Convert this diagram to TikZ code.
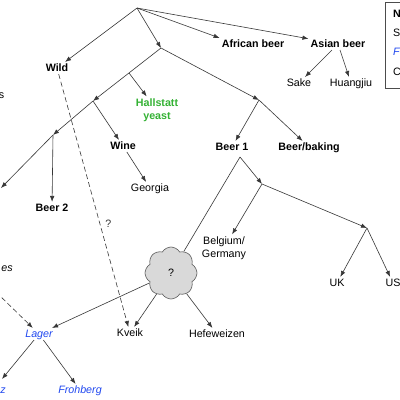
\documentclass[tikz,border=0pt]{standalone}
\usepackage{fontspec}
\setmainfont{Liberation Sans}
\usetikzlibrary{arrows.meta, shapes.symbols}
\definecolor{hallgreen}{RGB}{52,178,52}
\definecolor{lagerblue}{RGB}{32,72,240}
\definecolor{linegray}{RGB}{55,55,55}

\begin{document}
\begin{tikzpicture}[
    x=1pt, y=-1pt,
    >={Latex[length=6pt,width=4.5pt]},
    every node/.style={font=\fontsize{10.7}{12.9}\selectfont},
    lbl/.style   ={inner sep=2pt, text height=7.7pt, text depth=0pt},
    grp/.style   ={lbl, font=\fontsize{10.7}{12.9}\selectfont\bfseries},
    hyb/.style   ={lbl, text=lagerblue, font=\fontsize{10.7}{12.9}\selectfont\itshape},
    twoline/.style={inner sep=2pt, align=center},
    flow/.style  ={->, line width=0.6pt, linegray},
    link/.style  ={line width=0.6pt, linegray},
    guess/.style ={->, line width=0.6pt, linegray, dash pattern=on 5pt off 3pt},
    puff/.style  ={cloud, cloud puffs=8, cloud puff arc=120, aspect=1,
                   draw=black!65, fill=black!15, line width=0.6pt,
                   minimum width=52pt, minimum height=52pt, inner sep=0pt},
]
\fill[white] (0,0) rectangle (400,400);
\useasboundingbox (0,0) rectangle (400,400);

% branch points
\coordinate (root) at (137,8);
\coordinate (j1)   at (161,48);
\coordinate (hb)   at (129,73);
\coordinate (j2)   at (93,101);
\coordinate (j3)   at (53,135);
\coordinate (jb)   at (259,100);
\coordinate (b1)   at (240,157);
\coordinate (j4)   at (262,184);
\coordinate (j5)   at (367,228);
\coordinate (lft)  at (1,188);
\coordinate (sz)   at (2,379);
\coordinate (anc)  at (-4,292);

% groups
\node[grp] (wild)     at (57,68)   {Wild};
\node[grp] (african)  at (253,44)  {African beer};
\node[grp] (asian)    at (338,44)  {Asian beer};
\node[lbl] (sake)     at (299,83)  {Sake};
\node[lbl] (huangjiu) at (351,83)  {Huangjiu};
\node[twoline, text=hallgreen, font=\fontsize{10.7}{12.9}\selectfont\bfseries]
           (hallstatt) at (157,110) {Hallstatt\\yeast};
\node[grp] (wine)     at (123,146) {Wine};
\node[lbl] (georgia)  at (150,188) {Georgia};
\node[grp] (beer2)    at (52,208)  {Beer 2};
\node[grp] (beer1)    at (232,147) {Beer 1};
\node[grp] (baking)   at (309,147) {Beer/baking};
\node[twoline]        (belgium) at (224,248) {Belgium/\\Germany};
\node[lbl] (uk)       at (337,283) {UK};
\node[lbl] (us)       at (393,283) {US};
\node[puff] (cloud)   at (171,273) {?};
\node[lbl] (kveik)    at (130,333) {Kveik};
\node[lbl] (hefe)     at (217,334) {Hefeweizen};
\node[hyb] (lager)    at (39,334)  {Lager};
\node[hyb] (frohberg) at (80,390)  {Frohberg};

% cut at the left edge
\node[inner sep=0pt, anchor=base east] (ls)  at (4.5,98.3)  {s};
\node[inner sep=0pt, anchor=base east, font=\fontsize{10.7}{12.9}\selectfont\itshape]
     (les) at (13,271.7) {es};
\node[inner sep=0pt, anchor=base east, text=lagerblue,
      font=\fontsize{10.7}{12.9}\selectfont\itshape] (lz) at (6,393.3) {z};

% legend, cut at the right edge
\draw[line width=0.8pt, black!70] (385,2) rectangle (430,88);
\node[inner sep=0pt, anchor=west, font=\fontsize{10.7}{12.9}\selectfont\bfseries]
     (keyn) at (393,14) {N};
\node[inner sep=0pt, anchor=west] (keys) at (393,33) {S};
\node[inner sep=0pt, anchor=west, text=lagerblue,
      font=\fontsize{10.7}{12.9}\selectfont\itshape] (keyf) at (393,52) {F};
\node[inner sep=0pt, anchor=west] (keyc) at (393,72) {C};

% tree
\draw[flow] (root) -- (wild);
\draw[flow] (root) -- (j1);
\draw[flow] (root) -- (african.north west);
\draw[flow] (root) -- (asian);
\draw[flow] (asian) -- (sake);
\draw[flow] (asian) -- (huangjiu);
\draw[flow] (j1) -- (j2);
\draw[flow] (hb) -- (hallstatt);
\draw[flow] (j2) -- (wine);
\draw[flow] (wine) -- (georgia);
\draw[flow] (j2) -- (j3);
\draw[flow] (j3) -- (beer2);
\draw[flow] (j3) -- (lft);
\draw[flow] (j1) -- (jb);
\draw[flow] (jb) -- (beer1);
\draw[flow] (jb) -- (baking);
\draw[link] (b1) -- (cloud);
\draw[flow] (b1) -- (j4);
\draw[flow] (j4) -- (belgium);
\draw[flow] (j4) -- (j5);
\draw[flow] (j5) -- (uk);
\draw[flow] (j5) -- (us);
\draw[flow] (cloud) -- (lager);
\draw[flow] (cloud) -- (kveik);
\draw[flow] (cloud) -- (hefe);
\draw[flow] (lager) -- (sz);
\draw[flow] (lager) -- (frohberg);
\draw[guess] (wild) -- node[pos=0.59, right=2pt]{?} (kveik);
\draw[guess] (anc) -- (lager);
\end{tikzpicture}
\end{document}
